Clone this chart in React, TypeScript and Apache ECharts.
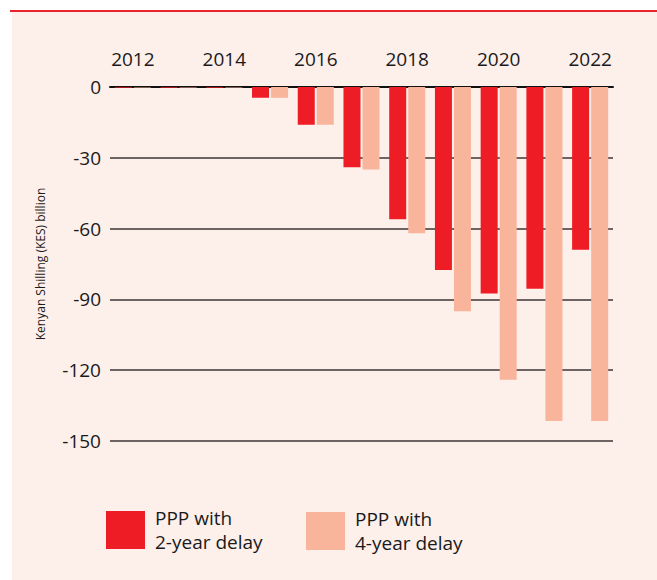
import React, { useEffect, useRef } from "react";
import * as echarts from "echarts";

const years = ["2012", "2013", "2014", "2015", "2016", "2017", "2018", "2019", "2020", "2021", "2022"];
const delay2 = [-0.3, -0.3, -0.3, -4.6, -16, -34, -56, -77.5, -87.5, -85.5, -69];
const delay4 = [-0.2, -0.2, -0.2, -4.6, -16, -35, -62, -95, -124, -141.5, -141.5];
const seriesNames = ["PPP with\n2-year delay", "PPP with\n4-year delay"];
const yTitle = "Kenyan Shilling (KES) billion";

const RED = "#ee1c25";
const PINK = "#f9b59c";
const BG = "#fdefea";
const FONT = "'Open Sans', 'Noto Sans', sans-serif";

export default function App() {
  const ref = useRef<HTMLDivElement>(null);
  useEffect(() => {
    document.body.style.margin = "0";
    const chart = echarts.init(ref.current!, null, { renderer: "svg" });
    const legendText = {
      fontSize: 19,
      color: "#1a1a1a",
      fontFamily: FONT,
      lineHeight: 24,
      padding: [0, 0, 0, 5],
    };
    chart.setOption({
      animation: false,
      backgroundColor: "#ffffff",
      textStyle: { fontFamily: FONT },
      graphic: [
        { type: "rect", z: -10, shape: { x: 12, y: 12, width: 645, height: 568 }, style: { fill: BG } },
        { type: "rect", z: -10, shape: { x: 10, y: 10, width: 647, height: 2 }, style: { fill: "#e8232b" } },
      ],
      grid: { left: 110, right: 44, top: 87, bottom: 139 },
      legend: [
        {
          data: [seriesNames[0]],
          left: 106,
          top: 506,
          padding: 0,
          itemWidth: 39,
          itemHeight: 38,
          itemGap: 0,
          icon: "rect",
          textStyle: legendText,
        },
        {
          data: [seriesNames[1]],
          left: 306,
          top: 507,
          padding: 0,
          itemWidth: 39,
          itemHeight: 38,
          itemGap: 0,
          icon: "rect",
          textStyle: legendText,
        },
      ],
      xAxis: {
        type: "category",
        position: "top",
        data: years,
        axisLine: { show: true, onZero: false, lineStyle: { color: "#111", width: 2 } },
        axisTick: { show: false },
        axisLabel: { interval: 1, fontSize: 19, color: "#1a1a1a", margin: 19, fontFamily: FONT },
      },
      yAxis: {
        type: "value",
        min: -150,
        max: 0,
        interval: 30,
        name: yTitle,
        nameLocation: "middle",
        nameGap: 64,
        nameTextStyle: { fontSize: 12, color: "#1a1a1a", fontFamily: FONT },
        axisLine: { show: false },
        axisTick: { show: false },
        axisLabel: { fontSize: 19, color: "#1a1a1a", margin: 9, fontFamily: FONT },
        splitLine: { show: true, lineStyle: { color: "#3d3535", width: 1.5 } },
      },
      series: [
        { name: seriesNames[0], type: "bar", data: delay2, barWidth: 17, barGap: "12%", itemStyle: { color: RED } },
        { name: seriesNames[1], type: "bar", data: delay4, barWidth: 17, barGap: "12%", itemStyle: { color: PINK } },
      ],
    });
    return () => chart.dispose();
  }, []);
  return <div ref={ref} style={{ width: 657, height: 580 }} />;
}
